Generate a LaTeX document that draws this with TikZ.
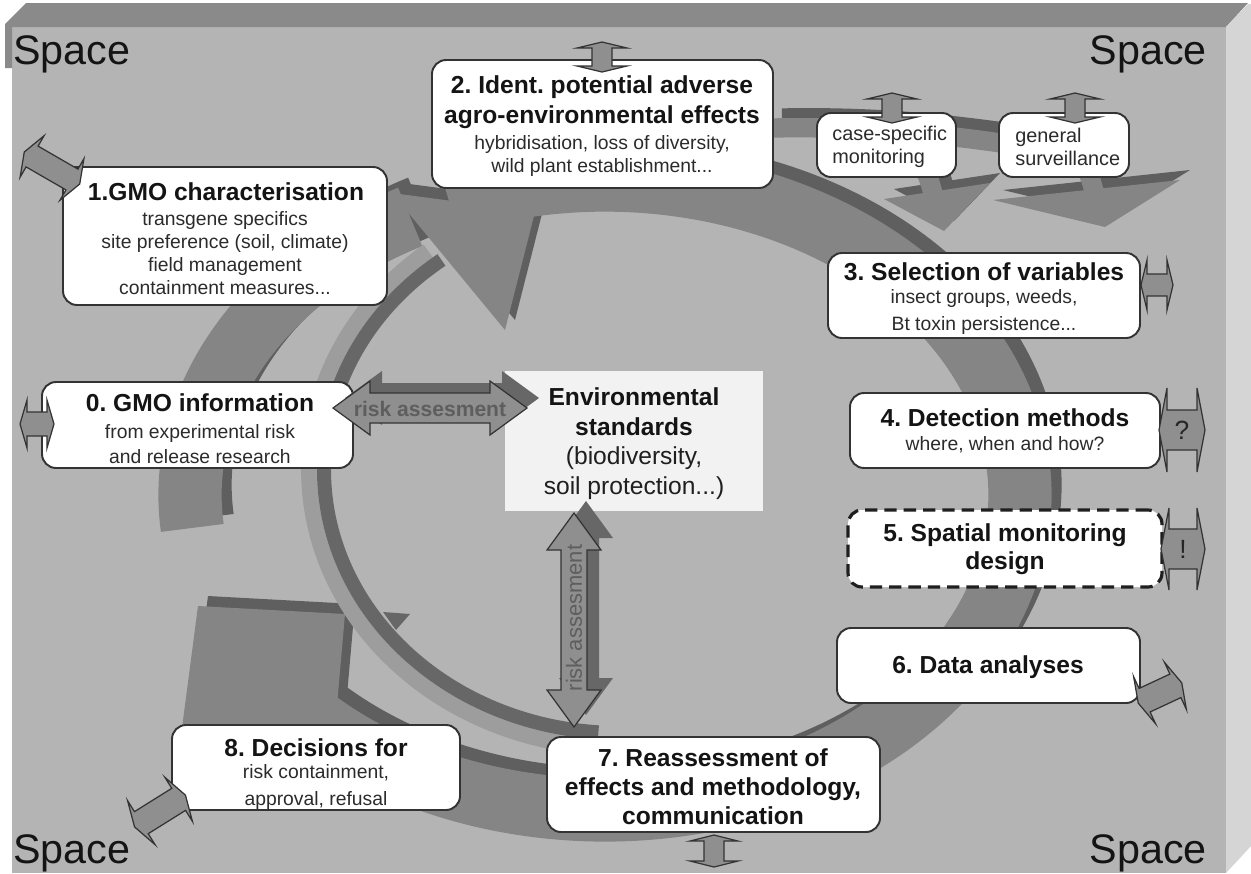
\documentclass[tikz,border=0pt]{standalone}
\usepackage{fontspec}
\setmainfont{Liberation Sans}
\usetikzlibrary{calc}
\frenchspacing
\definecolor{frontface}{HTML}{B4B4B4}
\definecolor{topface}{HTML}{8A8A8A}
\definecolor{sideface}{HTML}{D5D5D5}
\definecolor{ringmid}{HTML}{858585}
\definecolor{ringdark}{HTML}{5F5F5F}
\definecolor{innerlight}{HTML}{9D9D9D}
\definecolor{innerdark}{HTML}{676767}
\definecolor{arrfill}{HTML}{8F8F8F}
\definecolor{edgecol}{HTML}{333333}
\definecolor{envfill}{HTML}{F2F2F2}
\definecolor{subtext}{HTML}{2B2B2B}
\definecolor{risktext}{HTML}{5E5E5E}
% double-headed block arrow: style, x, y, angle, half length, head length, head half width, shaft half width
\newcommand\dblarr[8]{%
  \begin{scope}[shift={(#2,#3)},rotate=#4]
    \filldraw[#1] (-#5,0) -- ({-#5+#6},{-#7}) -- ({-#5+#6},{-#8}) -- ({#5-#6},{-#8}) -- ({#5-#6},{-#7}) -- (#5,0)
      -- ({#5-#6},{#7}) -- ({#5-#6},{#8}) -- ({-#5+#6},{#8}) -- ({-#5+#6},{#7}) -- cycle;
  \end{scope}}
% box node from pixel corners: name, x1, y1, x2, y2, style
\newcommand\pbox[6]{%
  \node[#6, minimum width={(#4-#2)*0.02cm}, minimum height={(#5-#3)*0.02cm}] (#1) at ({(#2+#4)/2},{(#3+#5)/2}) {};}
\begin{document}
\begin{tikzpicture}[x=0.02cm,y=-0.02cm,
  box/.style={draw=edgecol,line width=1.1pt,fill=white,rounded corners=8pt,inner sep=0pt},
  dbox/.style={box,draw=black!88,line width=1.8pt,dash pattern=on 7pt off 4pt},
  envbox/.style={fill=envfill,draw=none,inner sep=0pt},
  ttl/.style={font=\bfseries\fontsize{14}{17}\selectfont,text=black!92,align=center,inner sep=0pt},
  sub/.style={font=\fontsize{11}{13}\selectfont,text=subtext,align=center,inner sep=0pt},
  spacelbl/.style={font=\fontsize{23.5}{26}\selectfont,text=black!92,inner sep=0pt},
  dblarrow/.style={fill=arrfill,draw=edgecol,line width=0.7pt,line join=miter},
  riskshadow/.style={fill=innerdark,draw=none},
  ringband/.style={draw=ringmid,line width=36pt,line join=round},
  ringshadow/.style={draw=ringdark,line width=36pt,line join=round},
  branchband/.style={draw=ringmid,line width=11pt},
  branchshadow/.style={draw=ringdark,line width=11pt},
]
\useasboundingbox (0,0) rectangle (1251,873);
% ---------- box-shaped background ----------
\fill[white] (0,0) rectangle (1251,873);
\fill[frontface] (12,27) rectangle (1226,873);
\fill[topface] (5,68) -- (5,24) -- (26,3) -- (1248,3) -- (1226,27) -- (12,27) -- (12,68) -- cycle;
\fill[sideface] (1226,27) -- (1248,4) -- (1251,4) -- (1251,846) -- (1226,873) -- cycle;
% ---------- big cycle ring: shadows ----------
\begin{scope}[shift={(10,-10)}]
  \draw[ringshadow] plot[domain=118:186,samples=80] ({605+415*cos(\x)},{495-315*sin(\x)});
  \draw[ringshadow] plot[domain=-152:112,samples=220] ({605+415*cos(\x)},{495-315*sin(\x)});
  \fill[ringdark] (392,193) -- (535,212) -- (505,330) -- cycle;
  \fill[ringdark] (198,606) -- (345,614) -- (335,728) -- (182,728) -- cycle;
  \draw[branchshadow] (772,128) .. controls (880,126) and (960,136) .. (1060,152);
  \draw[branchshadow] (900,150) .. controls (925,165) .. (935,200);
  \draw[branchshadow] (1065,152) .. controls (1088,168) .. (1095,195);
  \fill[ringdark] (884,199) -- (990,183) -- (944,231) -- cycle;
  \fill[ringdark] (993,200) -- (1180,180) -- (1105,227) -- cycle;
\end{scope}
% ---------- big cycle ring ----------
\draw[ringband] plot[domain=118:186,samples=80] ({605+415*cos(\x)},{495-315*sin(\x)});
\draw[ringband] plot[domain=-152:112,samples=220] ({605+415*cos(\x)},{495-315*sin(\x)});
\fill[ringmid] (392,193) -- (535,212) -- (505,330) -- cycle;
\fill[ringmid] (198,606) -- (345,614) -- (335,728) -- (182,728) -- cycle;
\draw[branchband] (772,128) .. controls (880,126) and (960,136) .. (1060,152);
\draw[branchband] (900,150) .. controls (925,165) .. (935,200);
\draw[branchband] (1065,152) .. controls (1088,168) .. (1095,195);
\fill[ringmid] (884,199) -- (990,183) -- (944,231) -- cycle;
\fill[ringmid] (993,200) -- (1180,180) -- (1105,227) -- cycle;
% ---------- inner ring ----------
\draw[innerlight,line width=9pt] plot[domain=128:266,samples=120] ({619+310*cos(\x)},{470-278*sin(\x)});
\draw[innerdark,line width=8pt] plot[domain=127:266,samples=120] ({619+295*cos(\x)},{470-263*sin(\x)});
\fill[innerdark] (383,612) -- (410,614) -- (396,630) -- cycle;
% ---------- boxes ----------
\pbox{b1}{63}{167}{387}{305}{box}
\pbox{b2}{432}{60}{773}{188}{box}
\pbox{bcs}{817}{113}{956}{177}{box}
\pbox{bgs}{999}{113}{1129}{177}{box}
\pbox{b3}{828}{253}{1140}{338}{box}
\pbox{b4}{850}{393}{1160}{468}{box}
\pbox{b5}{848}{510}{1162}{587}{dbox}
\pbox{b6}{837}{628}{1140}{703}{box}
\pbox{b7}{547}{737}{880}{832}{box}
\pbox{b8}{172}{725}{460}{810}{box}
\pbox{b0}{42}{382}{353}{468}{box}
\pbox{env}{505}{371}{763}{511}{envbox}
% ---------- risk assessment arrows ----------
\dblarr{riskshadow}{442}{398}{0}{97}{37}{27}{15}
\dblarr{dblarrow}{430}{408}{0}{97}{37}{27}{15}
\dblarr{riskshadow}{586}{608}{90}{107}{37}{27}{13}
\dblarr{dblarrow}{574}{620}{90}{107}{37}{27}{13}
\node[font=\bfseries\fontsize{12}{14}\selectfont,text=risktext,inner sep=0pt] (rk1) at (430,409) {risk assesment};
\node[font=\fontsize{12.5}{14}\selectfont,text=risktext,inner sep=0pt,rotate=90] (rk2) at (574,618) {risk assesment};
% ---------- small double arrows to the surrounding space ----------
\dblarr{dblarrow}{602}{57}{90}{15}{6}{25}{10}
\dblarr{dblarrow}{892}{108}{90}{15}{6}{25}{10}
\dblarr{dblarrow}{1075}{108}{90}{15}{6}{25}{10}
\dblarr{dblarrow}{52}{168}{-30}{32}{9}{24}{12}
\dblarr{dblarrow}{37}{424}{0}{17}{7}{24}{12}
\dblarr{dblarrow}{1157}{285}{0}{16}{6}{25}{11}
\dblarr{dblarrow}{1182}{430}{0}{23}{8}{42}{20}
\dblarr{dblarrow}{1183}{549}{0}{22}{8}{41}{20}
\dblarr{dblarrow}{1160}{693}{25}{24}{7}{26}{13}
\dblarr{dblarrow}{160}{811}{32}{30}{8}{26}{13}
\dblarr{dblarrow}{714}{851}{90}{16}{6}{24}{10}
\node[font=\fontsize{15}{17}\selectfont,text=black!85,inner sep=0pt] (qm) at (1182,430) {?};
\node[font=\fontsize{15}{17}\selectfont,text=black!85,inner sep=0pt] (em) at (1183,549) {!};
% ---------- texts ----------
\node[ttl] (t1) at (226,192) {1.GMO characterisation};
\node[sub] (s1) at (225,253) {transgene specifics\\site preference (soil, climate)\\field management\\containment measures...};
\node[ttl] (t2) at (602,102) {2. Ident. potential adverse\\agro-environmental effects};
\node[sub,font=\fontsize{11}{13.6}\selectfont] (s2) at (602,156) {hybridisation, loss of diversity,\\wild plant establishment...};
\node[sub,align=left,anchor=west,font=\fontsize{11.3}{13}\selectfont] (tcs) at (832,147) {case-specific\\monitoring};
\node[sub,align=left,anchor=west,font=\fontsize{11.3}{13}\selectfont] (tgs) at (1015,147) {general\\surveillance};
\node[ttl] (t3) at (984,272) {3. Selection of variables};
\node[sub,font=\fontsize{11}{15}\selectfont] (s3) at (984,312) {insect groups, weeds,\\Bt toxin persistence...};
\node[ttl] (t4) at (1005,418) {4. Detection methods};
\node[sub] (s4) at (1005,445) {where, when and how?};
\node[ttl,font=\bfseries\fontsize{14}{16}\selectfont] (t5) at (1005,549) {5. Spatial monitoring\\design};
\node[ttl] (t6) at (988,667) {6. Data analyses};
\node[ttl,font=\bfseries\fontsize{14}{16.5}\selectfont] (t7) at (713,787) {7. Reassessment of\\effects and methodology,\\communication};
\node[ttl] (t8) at (316,748) {8. Decisions for};
\node[sub,font=\fontsize{11}{15}\selectfont] (s8) at (316,787) {risk containment,\\approval, refusal};
\node[ttl] (t0) at (200,403) {0. GMO information};
\node[sub,font=\fontsize{11}{14}\selectfont] (s0) at (200,444) {from experimental risk\\and release research};
\node[ttl] (te1) at (634,412) {Environmental\\standards};
\node[font=\fontsize{14}{17}\selectfont,text=black!88,align=center,inner sep=0pt] (te2) at (634,473) {(biodiversity,\\soil protection...)};
% ---------- Space labels ----------
\node[spacelbl,anchor=base west] (sp1) at (13,64) {Space};
\node[spacelbl,anchor=base east] (sp2) at (1207,64) {Space};
\node[spacelbl,anchor=base west] (sp3) at (13,863) {Space};
\node[spacelbl,anchor=base east] (sp4) at (1207,863) {Space};
\end{tikzpicture}
\end{document}
